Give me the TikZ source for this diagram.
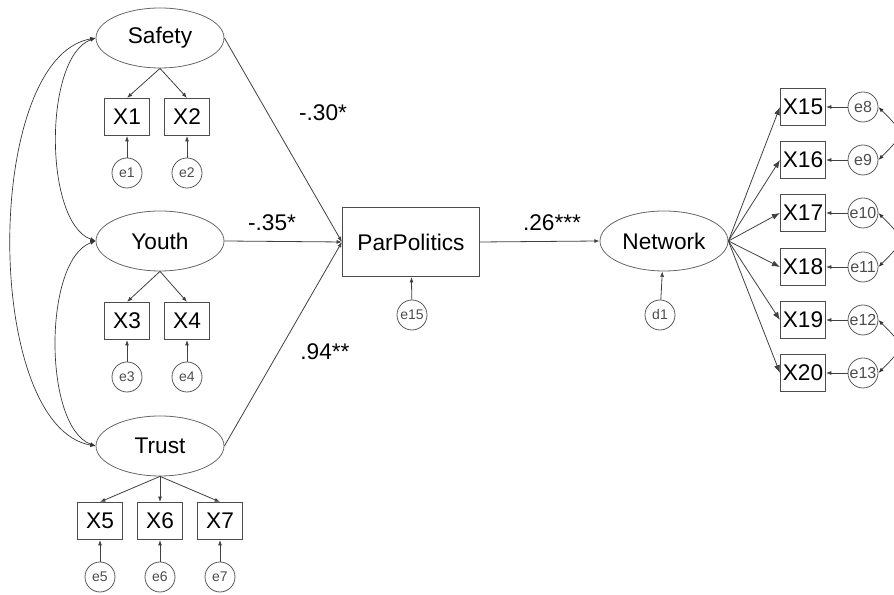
\documentclass[tikz,border=0pt]{standalone}
\usepackage{fontspec}
\setmainfont{Liberation Sans}
\usetikzlibrary{arrows.meta,shapes.geometric}

\begin{document}
\begin{tikzpicture}[x=0.75pt,y=0.75pt,
  latent/.style={ellipse,draw=black!60,line width=0.6pt,minimum width=96pt,minimum height=45pt,inner sep=0pt,font=\fontsize{17}{20}\selectfont},
  obs/.style={rectangle,draw=black!70,line width=0.6pt,minimum width=34pt,minimum height=28pt,inner sep=0pt,font=\fontsize{17}{20}\selectfont},
  err/.style={circle,draw=black!65,line width=0.6pt,minimum size=22.5pt,inner sep=0pt,text=black!70,font=\fontsize{10.5}{12}\selectfont},
  errR/.style={err,font=\fontsize{12}{14}\selectfont},
  coef/.style={font=\fontsize{17}{20}\selectfont},
  load/.style={draw=black!75,line width=0.6pt,-{Latex[length=4pt,width=3pt]}},
  loadR/.style={draw=black!75,line width=0.6pt,-{Latex[length=6pt,width=4.5pt]}},
  cov/.style={draw=black!80,line width=0.5pt,{Latex[length=4pt,width=3pt]}-{Latex[length=4pt,width=3pt]}}]
\useasboundingbox (0,0) rectangle (894,595);
\node[latent] (safety) at (160,557) {Safety};
\node[latent] (youth) at (160,354) {Youth};
\node[latent] (trust) at (160,149) {Trust};
\foreach \n/\x/\y in {1/127/478,2/187/478,3/127/274,4/187/274,5/100/74,6/160/74,7/220/74}
  {\node[obs] (x\n) at (\x,\y) {X\n};
   \node[err] (e\n) at (\x,\y-56) {e\n};
   \draw[load] (e\n) -- (x\n);}
\foreach \n in {1,2}
  \draw[load] (safety.south) -- (x\n.north);
\foreach \n in {3,4}
  \draw[load] (youth.south) -- (x\n.north);
\foreach \n in {5,6,7}
  \draw[load] (trust.south) -- (x\n.north);
\draw[cov] (safety.west) to[out=200,in=160,looseness=0.7] (youth.west);
\draw[cov] (youth.west) to[out=200,in=160,looseness=0.7] (trust.west);
\draw[cov] (safety.west) to[out=190,in=170,looseness=0.72] (trust.west);
\node[obs,minimum width=103pt,minimum height=52pt] (par) at (411,353) {ParPolitics};
\node[err] (e15) at (412,280) {e15};
\draw[load] (e15) -- (par);
\draw[load] (safety.east) -- (par.west);
\draw[load] (youth.east) -- (par.west);
\draw[load] (trust.east) -- (par.west);
\node[coef] (c1) at (323,482) {-.30*};
\node[coef] (c2) at (272,372) {-.35*};
\node[coef] (c3) at (325,243) {.94**};
\node[latent] (network) at (664,354) {Network};
\node[err] (d1) at (660,280) {d1};
\draw[load] (d1) -- (network);
\draw[load] (par.east) -- (network.west);
\node[coef] (c4) at (552,372) {.26***};
\foreach \n/\m/\y in {15/8/488,16/9/435,17/10/382,18/11/328,19/12/275,20/13/222}
  {\node[obs] (x\n) at (803,\y) {X\n};
   \node[errR] (e\m) at (863,\y) {e\m};
   \draw[load] (e\m) -- (x\n);
   \draw[loadR] (network.east) -- (x\n.west);}
\foreach \a/\b in {8/9,10/11,12/13}
  \draw[cov] (e\a.east) to[out=-45,in=45,looseness=1.8] (e\b.east);
\end{tikzpicture}
\end{document}
